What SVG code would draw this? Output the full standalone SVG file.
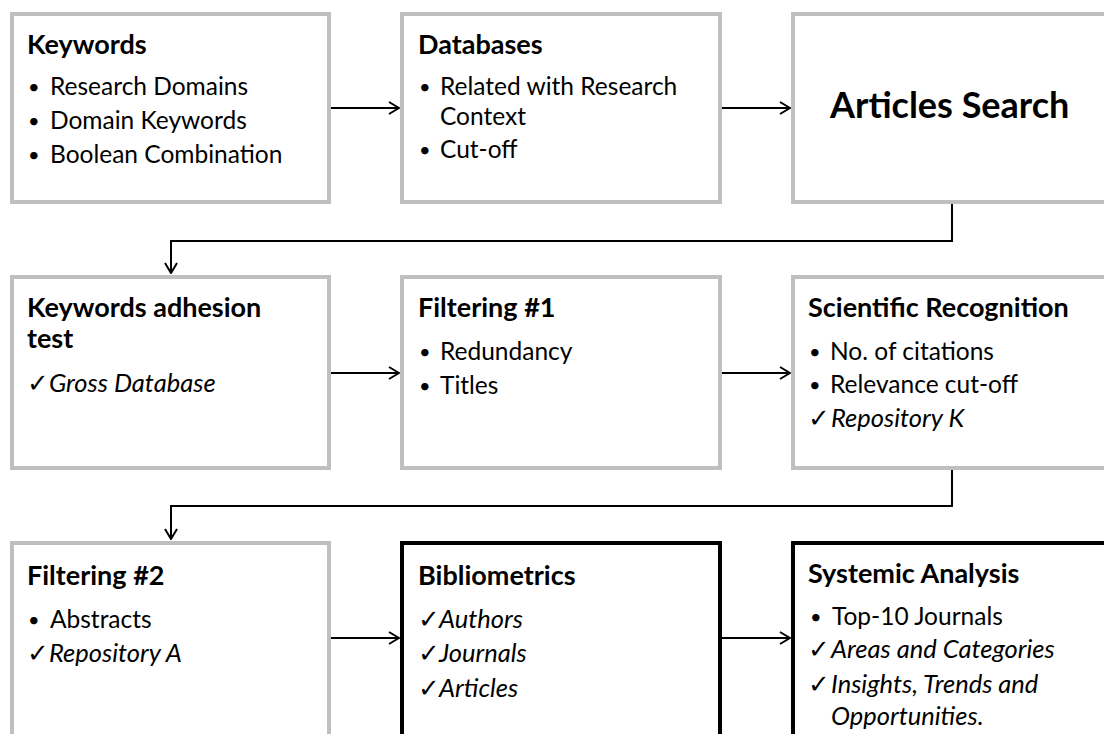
<svg xmlns="http://www.w3.org/2000/svg" width="1104" height="734" viewBox="0 0 1104 734">
  <style>
    .box { fill: #ffffff; stroke: #bfbfbf; stroke-width: 4; }
    .box.strong { stroke: #000000; }
    text { font-family: Lato, "Open Sans", "Liberation Sans", sans-serif; fill: #000000; }
    .title { font-size: 27px; font-weight: bold; }
    .big { font-size: 36px; font-weight: bold; }
    .item { font-size: 24.5px; }
    .em { font-size: 25.5px; font-style: italic; }
    .dot { font-size: 20px; }
    .chk { font-family: "DejaVu Sans", sans-serif; font-size: 26px; }
    .link { fill: none; stroke: #000000; stroke-width: 2; }
  </style>
  <defs>
    <marker id="arrow" viewBox="0 0 12 14" refX="11" refY="7" markerWidth="12" markerHeight="14" markerUnits="userSpaceOnUse" orient="auto">
      <path d="M1,1 L11,7 L1,13" fill="none" stroke="#000000" stroke-width="2"/>
    </marker>
  </defs>
  <rect width="1104" height="734" fill="#ffffff"/>

  <!-- connectors -->
  <g id="connectors">
    <line class="link" x1="331" y1="108" x2="399" y2="108" marker-end="url(#arrow)"/>
    <line class="link" x1="722" y1="108" x2="790" y2="108" marker-end="url(#arrow)"/>
    <polyline class="link" points="952,204 952,241 171,241 171,273" marker-end="url(#arrow)"/>
    <line class="link" x1="331" y1="373" x2="399" y2="373" marker-end="url(#arrow)"/>
    <line class="link" x1="722" y1="373" x2="790" y2="373" marker-end="url(#arrow)"/>
    <polyline class="link" points="952,470 952,506 171,506 171,539" marker-end="url(#arrow)"/>
    <line class="link" x1="331" y1="638" x2="399" y2="638" marker-end="url(#arrow)"/>
    <line class="link" x1="722" y1="638" x2="790" y2="638" marker-end="url(#arrow)"/>
  </g>

  <!-- row 1 -->
  <g id="keywords">
    <rect class="box" x="12" y="14" width="317" height="188"/>
    <text class="title" x="27" y="54">Keywords</text>
    <text class="dot" x="28" y="94">•</text><text class="item" x="50" y="95">Research Domains</text>
    <text class="dot" x="28" y="128">•</text><text class="item" x="50" y="129">Domain Keywords</text>
    <text class="dot" x="28" y="162">•</text><text class="item" x="50" y="163">Boolean Combination</text>
  </g>
  <g id="databases">
    <rect class="box" x="402" y="14" width="318" height="188"/>
    <text class="title" x="418" y="54">Databases</text>
    <text class="dot" x="419" y="94">•</text><text class="item" x="440" y="95">Related with Research</text>
    <text class="item" x="440" y="125">Context</text>
    <text class="dot" x="419" y="157">•</text><text class="item" x="440" y="158">Cut-off</text>
  </g>
  <g id="articles-search">
    <rect class="box" x="793" y="14" width="330" height="188"/>
    <text class="big" x="830" y="118">Articles Search</text>
  </g>

  <!-- row 2 -->
  <g id="adhesion-test">
    <rect class="box" x="12" y="277" width="317" height="191"/>
    <text class="title" x="27" y="317">Keywords adhesion</text>
    <text class="title" x="27" y="348">test</text>
    <text class="chk" x="27" y="392">✓</text><text class="em" x="49" y="392">Gross Database</text>
  </g>
  <g id="filtering-1">
    <rect class="box" x="402" y="277" width="318" height="191"/>
    <text class="title" x="418" y="317">Filtering #1</text>
    <text class="dot" x="419" y="359">•</text><text class="item" x="440" y="360">Redundancy</text>
    <text class="dot" x="419" y="393">•</text><text class="item" x="440" y="394">Titles</text>
  </g>
  <g id="scientific-recognition">
    <rect class="box" x="793" y="277" width="330" height="191"/>
    <text class="title" x="808" y="317">Scientific Recognition</text>
    <text class="dot" x="809" y="359">•</text><text class="item" x="830" y="360">No. of citations</text>
    <text class="dot" x="809" y="392">•</text><text class="item" x="830" y="393">Relevance cut-off</text>
    <text class="chk" x="808" y="427">✓</text><text class="em" x="831" y="427">Repository K</text>
  </g>

  <!-- row 3 -->
  <g id="filtering-2">
    <rect class="box" x="12" y="543" width="317" height="220"/>
    <text class="title" x="27" y="585">Filtering #2</text>
    <text class="dot" x="28" y="627">•</text><text class="item" x="50" y="628">Abstracts</text>
    <text class="chk" x="27" y="662">✓</text><text class="em" x="49" y="662">Repository A</text>
  </g>
  <g id="bibliometrics">
    <rect class="box strong" x="402" y="543" width="318" height="220"/>
    <text class="title" x="418" y="585">Bibliometrics</text>
    <text class="chk" x="418" y="628">✓</text><text class="em" x="439" y="628">Authors</text>
    <text class="chk" x="418" y="662">✓</text><text class="em" x="439" y="662">Journals</text>
    <text class="chk" x="418" y="697">✓</text><text class="em" x="439" y="697">Articles</text>
  </g>
  <g id="systemic-analysis">
    <rect class="box strong" x="793" y="543" width="330" height="220"/>
    <text class="title" x="808" y="583">Systemic Analysis</text>
    <text class="dot" x="810" y="624">•</text><text class="item" x="832" y="625">Top-10 Journals</text>
    <text class="chk" x="808" y="658">✓</text><text class="em" x="831" y="658">Areas and Categories</text>
    <text class="chk" x="808" y="693">✓</text><text class="em" x="831" y="693">Insights, Trends and</text>
    <text class="em" x="831" y="725">Opportunities.</text>
  </g>
</svg>
